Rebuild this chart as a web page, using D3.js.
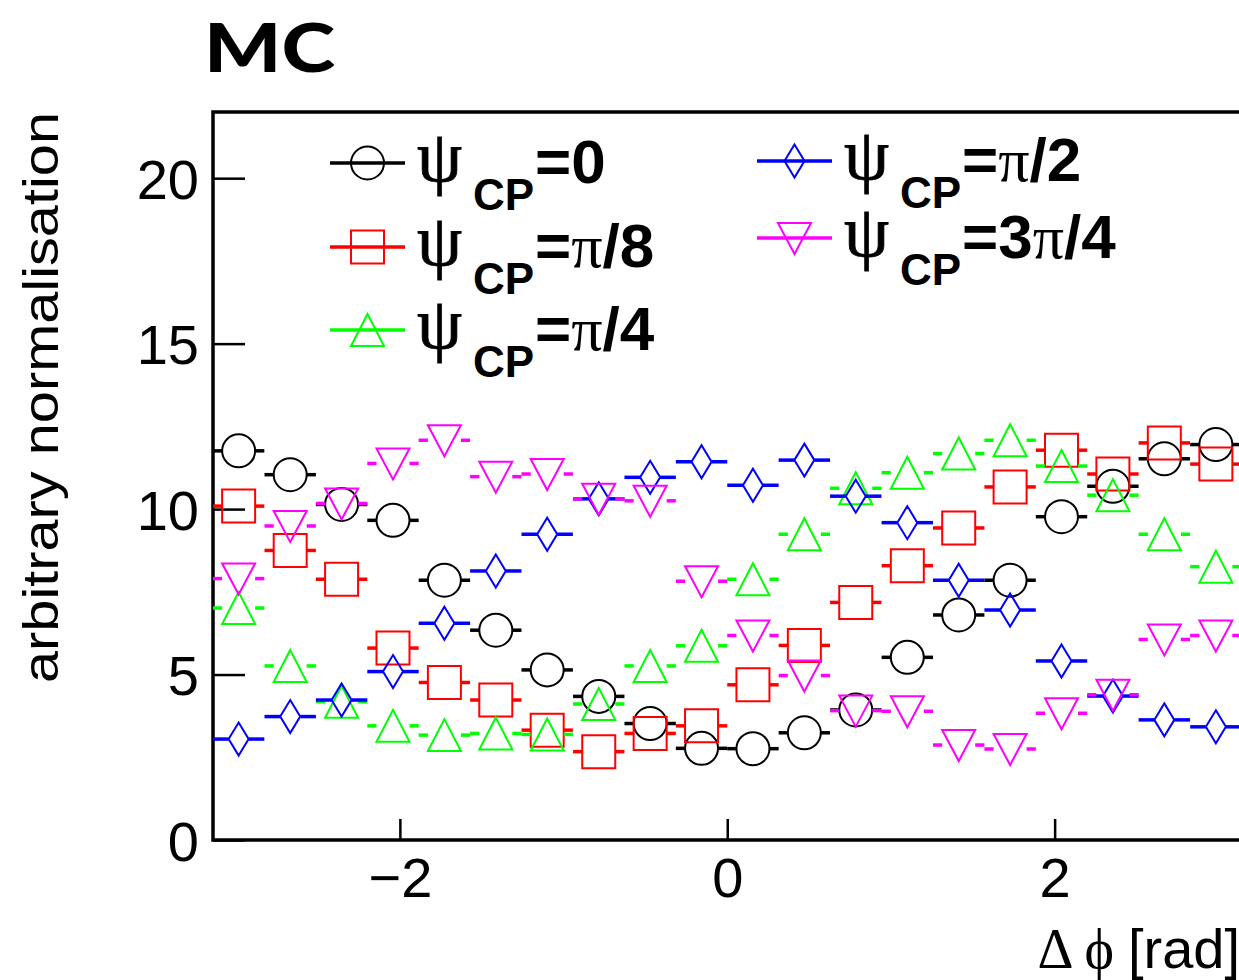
<!DOCTYPE html>
<html>
<head>
<meta charset="utf-8">
<script src="https://cdn.jsdelivr.net/npm/d3@7"></script>
<style>
  body { margin: 0; background: #fff; }
  svg { display: block; }
</style>
</head>
<body>
<div id="chart"></div>
<script>
// bin centres of the 20 delta-phi bins (rad), and the half bin width
const binCenters = [-2.985, -2.670, -2.356, -2.042, -1.728, -1.414, -1.100, -0.785, -0.471, -0.157,
                     0.157,  0.471,  0.785,  1.100,  1.414,  1.728,  2.042,  2.356,  2.670,  2.985];
const binHalf = 0.157;

// one array per psi_CP hypothesis
const psi0    = [11.76, 11.04, 10.14, 9.66, 7.85, 6.34, 5.14, 4.34, 3.52, 2.77, 2.76, 3.24, 3.93, 5.52, 6.80, 7.85, 9.77, 10.69, 11.52, 11.95];
const psiPi8  = [10.09, 8.75, 7.88, 5.80, 4.76, 4.23, 3.32, 2.67, 3.22, 3.45, 4.69, 5.88, 7.18, 8.29, 9.43, 10.67, 11.78, 11.06, 12.00, 11.36];
const psiPi4  = [7.01, 5.26, 4.18, 3.45, 3.17, 3.22, 3.19, 4.11, 5.26, 5.87, 7.88, 9.24, 10.63, 11.10, 11.68, 12.08, 11.30, 10.42, 9.24, 8.26];
const psiPi2  = [3.05, 3.73, 4.23, 5.09, 6.55, 8.13, 9.24, 10.31, 10.96, 11.43, 10.72, 11.48, 10.39, 9.59, 7.85, 6.95, 5.41, 4.35, 3.63, 3.42];
const psi3Pi4 = [7.90, 9.49, 10.17, 11.38, 12.08, 10.98, 11.06, 10.31, 10.25, 7.82, 6.18, 4.97, 3.91, 3.89, 2.87, 2.75, 3.83, 4.39, 6.06, 6.18];

const xTicks = [-2, 0, 2];
const yTicks = [0, 5, 10, 15, 20];

// legend labels: the part after "=" ; pieces flagged as greek use the serif face
const series = [
  { values: psi0,    color: '#000000', shape: 'circle',   label: [['=0', false]] },
  { values: psiPi8,  color: '#ff0000', shape: 'square',   label: [['=', false], ['\u03c0', true], ['/8', false]] },
  { values: psiPi4,  color: '#00ff00', shape: 'triangle', label: [['=', false], ['\u03c0', true], ['/4', false]] },
  { values: psiPi2,  color: '#0000ff', shape: 'diamond',  label: [['=', false], ['\u03c0', true], ['/2', false]] },
  { values: psi3Pi4, color: '#ff00ff', shape: 'invtri',   label: [['=3', false], ['\u03c0', true], ['/4', false]] }
];

const W = 1239, H = 980;
const frame = { left: 213, right: 1241.5, top: 112, bottom: 840 };
const sans = "'Liberation Sans', Arial, Helvetica, sans-serif";
const serif = "'Liberation Serif', 'Times New Roman', serif";

const svg = d3.select('#chart').append('svg')
  .attr('width', W)
  .attr('height', H);

const x = d3.scaleLinear().domain([-Math.PI, Math.PI]).range([frame.left, frame.right]);
const y = d3.scaleLinear().domain([0, 22]).range([frame.bottom, frame.top]);

// marker half widths (px) used to stop the error bars at the marker edge
const halfW = { circle: 16.5, square: 16.5, triangle: 16.5, diamond: 10, invtri: 16.5 };

function markerPath(shape, cx, cy) {
  const p = d3.path();
  const r = 16.5;
  if (shape === 'circle') {
    p.moveTo(cx + r, cy);
    p.arc(cx, cy, r, 0, 2 * Math.PI);
  } else if (shape === 'square') {
    p.rect(cx - r, cy - r, 2 * r, 2 * r);
  } else if (shape === 'triangle') {
    p.moveTo(cx, cy - 16);
    p.lineTo(cx + r, cy + 16);
    p.lineTo(cx - r, cy + 16);
    p.closePath();
  } else if (shape === 'invtri') {
    p.moveTo(cx, cy + 16);
    p.lineTo(cx + r, cy - 15);
    p.lineTo(cx - r, cy - 15);
    p.closePath();
  } else if (shape === 'diamond') {
    p.moveTo(cx, cy - 16.5);
    p.lineTo(cx + 10, cy);
    p.lineTo(cx, cy + 16.5);
    p.lineTo(cx - 10, cy);
    p.closePath();
  }
  return p.toString();
}

// title
svg.append('text')
  .attr('x', 204)
  .attr('y', 72)
  .attr('font-family', "Lato, 'DejaVu Sans', sans-serif")
  .attr('font-weight', 900)
  .attr('font-size', 66)
  .attr('textLength', 131)
  .attr('lengthAdjust', 'spacingAndGlyphs')
  .text('MC');

// axes
const xAxis = svg.append('g')
  .attr('transform', `translate(0,${frame.bottom})`)
  .call(d3.axisBottom(x).tickValues(xTicks).tickFormat(d3.format('d'))
    .tickSize(-21).tickPadding(17).tickSizeOuter(0));

const yAxis = svg.append('g')
  .attr('transform', `translate(${frame.left},0)`)
  .call(d3.axisLeft(y).tickValues(yTicks).tickFormat(d3.format('d'))
    .tickSize(-32).tickPadding(14).tickSizeOuter(0));

[xAxis, yAxis].forEach(g => {
  g.select('.domain').remove();
  g.selectAll('.tick line').attr('stroke', '#000').attr('stroke-width', 2.5);
  g.selectAll('.tick text')
    .attr('font-family', sans)
    .attr('font-size', 56)
    .attr('fill', '#000');
});
yAxis.selectAll('.tick text').attr('dy', '0.36em');

// frame
svg.append('rect')
  .attr('x', frame.left)
  .attr('y', frame.top)
  .attr('width', frame.right - frame.left)
  .attr('height', frame.bottom - frame.top)
  .attr('fill', 'none')
  .attr('stroke', '#000')
  .attr('stroke-width', 3.5);

// axis titles
svg.append('text')
  .attr('transform', `translate(58,${frame.top}) rotate(-90)`)
  .attr('text-anchor', 'end')
  .attr('font-family', sans)
  .attr('font-size', 50)
  .attr('textLength', 571)
  .attr('lengthAdjust', 'spacingAndGlyphs')
  .text('arbitrary normalisation');

const xTitle = svg.append('text')
  .attr('x', 1240)
  .attr('y', 968)
  .attr('text-anchor', 'end')
  .attr('font-family', sans)
  .attr('font-size', 56);
xTitle.append('tspan').attr('font-family', serif).text('\u0394 \u03d5 ');
xTitle.append('tspan').text('[rad]');

// data points: horizontal bin-width bars outside the marker, then open markers
const plot = svg.append('g');
series.forEach(s => {
  const g = plot.append('g');
  const hw = halfW[s.shape];
  s.values.forEach((v, i) => {
    const cx = x(binCenters[i]), cy = y(v);
    g.append('line')
      .attr('x1', x(binCenters[i] - binHalf)).attr('x2', cx - hw)
      .attr('y1', cy).attr('y2', cy);
    g.append('line')
      .attr('x1', cx + hw).attr('x2', x(binCenters[i] + binHalf))
      .attr('y1', cy).attr('y2', cy);
  });
  g.selectAll('line')
    .attr('stroke', s.color)
    .attr('stroke-width', 3.5);
  g.selectAll('path.marker')
    .data(s.values)
    .join('path')
    .attr('class', 'marker')
    .attr('d', (v, i) => markerPath(s.shape, x(binCenters[i]), y(v)))
    .attr('fill', 'none')
    .attr('stroke', s.color)
    .attr('stroke-width', 2);
});

// legend, two columns
const legendCols = [
  { x: 330, rows: [163, 247, 330], items: [0, 1, 2] },
  { x: 757, rows: [161, 238], items: [3, 4] }
];
legendCols.forEach(col => {
  col.items.forEach((idx, r) => {
    const s = series[idx];
    const ly = col.rows[r];
    const g = svg.append('g');
    g.append('line')
      .attr('x1', col.x).attr('x2', col.x + 75)
      .attr('y1', ly).attr('y2', ly)
      .attr('stroke', s.color).attr('stroke-width', 3.5);
    g.append('path')
      .attr('d', markerPath(s.shape, col.x + 37.5, ly))
      .attr('fill', 'none')
      .attr('stroke', s.color)
      .attr('stroke-width', 2);
    g.append('text')
      .attr('x', col.x + 87)
      .attr('y', ly + 18)
      .attr('font-family', serif)
      .attr('font-size', 72)
      .attr('stroke', '#000')
      .attr('stroke-width', 0.8)
      .text('\u03c8');
    g.append('text')
      .attr('x', col.x + 143)
      .attr('y', ly + 47)
      .attr('font-family', sans)
      .attr('font-weight', 'bold')
      .attr('font-size', 44)
      .text('CP');
    const t = g.append('text')
      .attr('x', col.x + 205)
      .attr('y', ly + 20)
      .attr('font-family', sans)
      .attr('font-weight', 'bold')
      .attr('font-size', 62);
    s.label.forEach(([str, greek]) => {
      const ts = t.append('tspan').text(str);
      if (greek) ts.attr('font-family', serif).attr('font-weight', 'normal');
    });
  });
});
</script>
</body>
</html>
